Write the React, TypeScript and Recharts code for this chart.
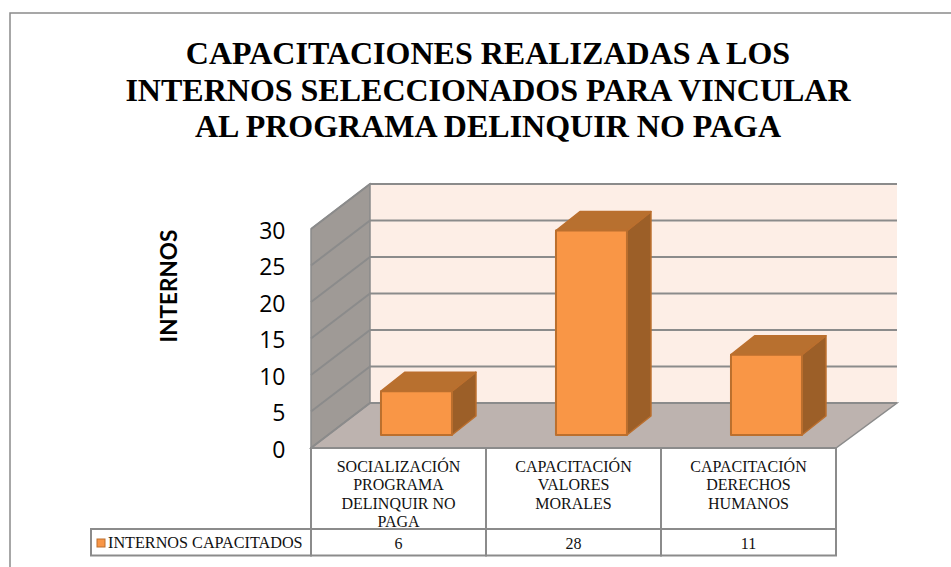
import React from "react";
import { BarChart, Bar, XAxis, YAxis, ReferenceArea } from "recharts";

const categories = ["SOCIALIZACIÓN PROGRAMA DELINQUIR NO PAGA", "CAPACITACIÓN VALORES MORALES", "CAPACITACIÓN DERECHOS HUMANOS"];
const categoryLines = [
  ["SOCIALIZACIÓN", "PROGRAMA", "DELINQUIR NO", "PAGA"],
  ["CAPACITACIÓN", "VALORES", "MORALES"],
  ["CAPACITACIÓN", "DERECHOS", "HUMANOS"],
];
const values = [6, 28, 11];
const yTicks = [0, 5, 10, 15, 20, 25, 30];
const titleLines = [
  "CAPACITACIONES REALIZADAS A LOS",
  "INTERNOS SELECCIONADOS PARA VINCULAR",
  "AL PROGRAMA DELINQUIR NO PAGA",
];
const seriesName = "INTERNOS CAPACITADOS";
const yTitle = "INTERNOS";
const data = categories.map((c, i) => ({ name: c, value: values[i] }));

const GRID = "#8b8b8b";
const SERIF = "'Liberation Serif', serif";
const SANS = "Lato, 'Open Sans', sans-serif";

const AXIS_W = 41;
const AXIS_H = 132;
const M = { left: 329 - AXIS_W, right: 97, top: 216, bottom: 0 };
// Perspective offsets of the 3D box from the plane of the bars
const FRONT = { dx: -18, dy: 13 };
const BACK_L = { dx: 41, dy: -32 };
const BACK_R = { dx: 43, dy: -32 };
const BAR_D = { dx: 24, dy: -19 };
const TABLE_BOTTOM = 555.5;
const TABLE_ROW = 529;
const LEGEND_LEFT = 91;

const Box3D = (p: any) => {
  const { x, y, width: w, height: h } = p;
  const b = y + h;
  const r = x + w;
  const fl = x + FRONT.dx, fr = r + FRONT.dx, fb = b + FRONT.dy, ft = y + FRONT.dy;
  const bl = x + BACK_L.dx, br = r + BACK_R.dx, bb = b + BACK_L.dy, bt = y + BACK_L.dy;
  return (
    <g>
      <polygon points={`${bl},${bt} ${br},${bt} ${br},${bb} ${bl},${bb}`} fill="#FDEEE6" />
      <polygon points={`${fl},${ft} ${bl},${bt} ${bl},${bb} ${fl},${fb}`} fill="#9F9A96" stroke={GRID} strokeWidth={1.5} />
      <polygon points={`${fl},${fb} ${bl},${bb} ${br},${bb} ${fr},${fb}`} fill="#BDB3AF" stroke={GRID} strokeWidth={1.5} />
      {yTicks.map((t) => {
        const frac = t / yTicks[yTicks.length - 1];
        const yy = b - h * frac;
        return (
          <path key={t} d={`M${fl},${yy + FRONT.dy} L${bl},${yy + BACK_L.dy} L${br},${yy + BACK_L.dy}`} fill="none" stroke={GRID} strokeWidth={2} />
        );
      })}
    </g>
  );
};

const Bar3D = (p: any) => {
  const { x, y, width: w, height: h } = p;
  const r = x + w, b = y + h;
  const { dx, dy } = BAR_D;
  const S = "#BB6F2E";
  return (
    <g stroke={S} strokeWidth={1.5} strokeLinejoin="round">
      <polygon points={`${r},${y} ${r + dx},${y + dy} ${r + dx},${b + dy} ${r},${b}`} fill="#9C5F28" />
      <polygon points={`${x},${y} ${x + dx},${y + dy} ${r + dx},${y + dy} ${r},${y}`} fill="#B8702F" />
      <rect x={x} y={y} width={w} height={h} fill="#F99646" strokeWidth={2} />
    </g>
  );
};

const CategoryTick = (p: any) => {
  const { x, index } = p;
  const plotBottom = 567 - AXIS_H;
  const band = (951 - M.left - AXIS_W - M.right) / categories.length;
  const cx = x + FRONT.dx;
  const left = cx - band / 2;
  const top = plotBottom + FRONT.dy;
  return (
    <g>
      <rect x={left} y={top} width={band} height={TABLE_ROW - top} fill="#fff" stroke={GRID} strokeWidth={2} />
      <rect x={left} y={TABLE_ROW} width={band} height={TABLE_BOTTOM - TABLE_ROW} fill="#fff" stroke={GRID} strokeWidth={2} />
      {categoryLines[index].map((l, i) => (
        <text key={l} x={cx} y={472 + i * 18.3} textAnchor="middle" fontFamily={SERIF} fontSize={16} fill="#111">{l}</text>
      ))}
      <text x={cx} y={548.5} textAnchor="middle" fontFamily={SERIF} fontSize={16} fill="#111">{values[index]}</text>
    </g>
  );
};

const ValueTick = (p: any) => {
  const { y, payload } = p;
  return (
    <text x={285.5} y={y + FRONT.dy + 1.5} dy="0.36em" textAnchor="end" fontFamily="'Open Sans', sans-serif" fontSize={23} fill="#000">{payload.value}</text>
  );
};

export default function App() {
  const plotLeft = M.left + AXIS_W + FRONT.dx;
  return (
    <div style={{ position: "absolute", left: 0, top: 0, width: 951, height: 567, background: "#fff" }}>
      <BarChart width={951} height={567} data={data} margin={M} barCategoryGap="29.7%">
        <rect x={10} y={13} width={945} height={560} fill="none" stroke={GRID} strokeWidth={1.5} />
        {titleLines.map((l, i) => (
          <text key={l} x={488} y={64 + i * 36.7} textAnchor="middle" fontFamily={SERIF} fontWeight="bold" fontSize={32} fill="#000">{l}</text>
        ))}
        <text transform="translate(177,286) rotate(-90)" textAnchor="middle" fontFamily={SANS} fontWeight="bold" fontSize={22.5} fill="#000">{yTitle}</text>
        <ReferenceArea y1={0} y2={30} shape={<Box3D />} />
        <XAxis dataKey="name" axisLine={false} tickLine={false} interval={0} height={AXIS_H} tick={<CategoryTick />} />
        <YAxis domain={[0, 30]} ticks={yTicks} interval={0} width={AXIS_W} axisLine={false} tickLine={false} tick={<ValueTick />} />
        <Bar dataKey="value" name={seriesName} shape={<Bar3D />} isAnimationActive={false} />
        <rect x={LEGEND_LEFT} y={TABLE_ROW} width={plotLeft - LEGEND_LEFT} height={TABLE_BOTTOM - TABLE_ROW} fill="#fff" stroke={GRID} strokeWidth={2} />
        <rect x={97} y={539} width={8} height={8} fill="#F99646" stroke="#BB6F2E" strokeWidth={1} />
        <text x={108} y={548} fontFamily={SERIF} fontSize={16.2} fill="#111">{seriesName}</text>
      </BarChart>
    </div>
  );
}
